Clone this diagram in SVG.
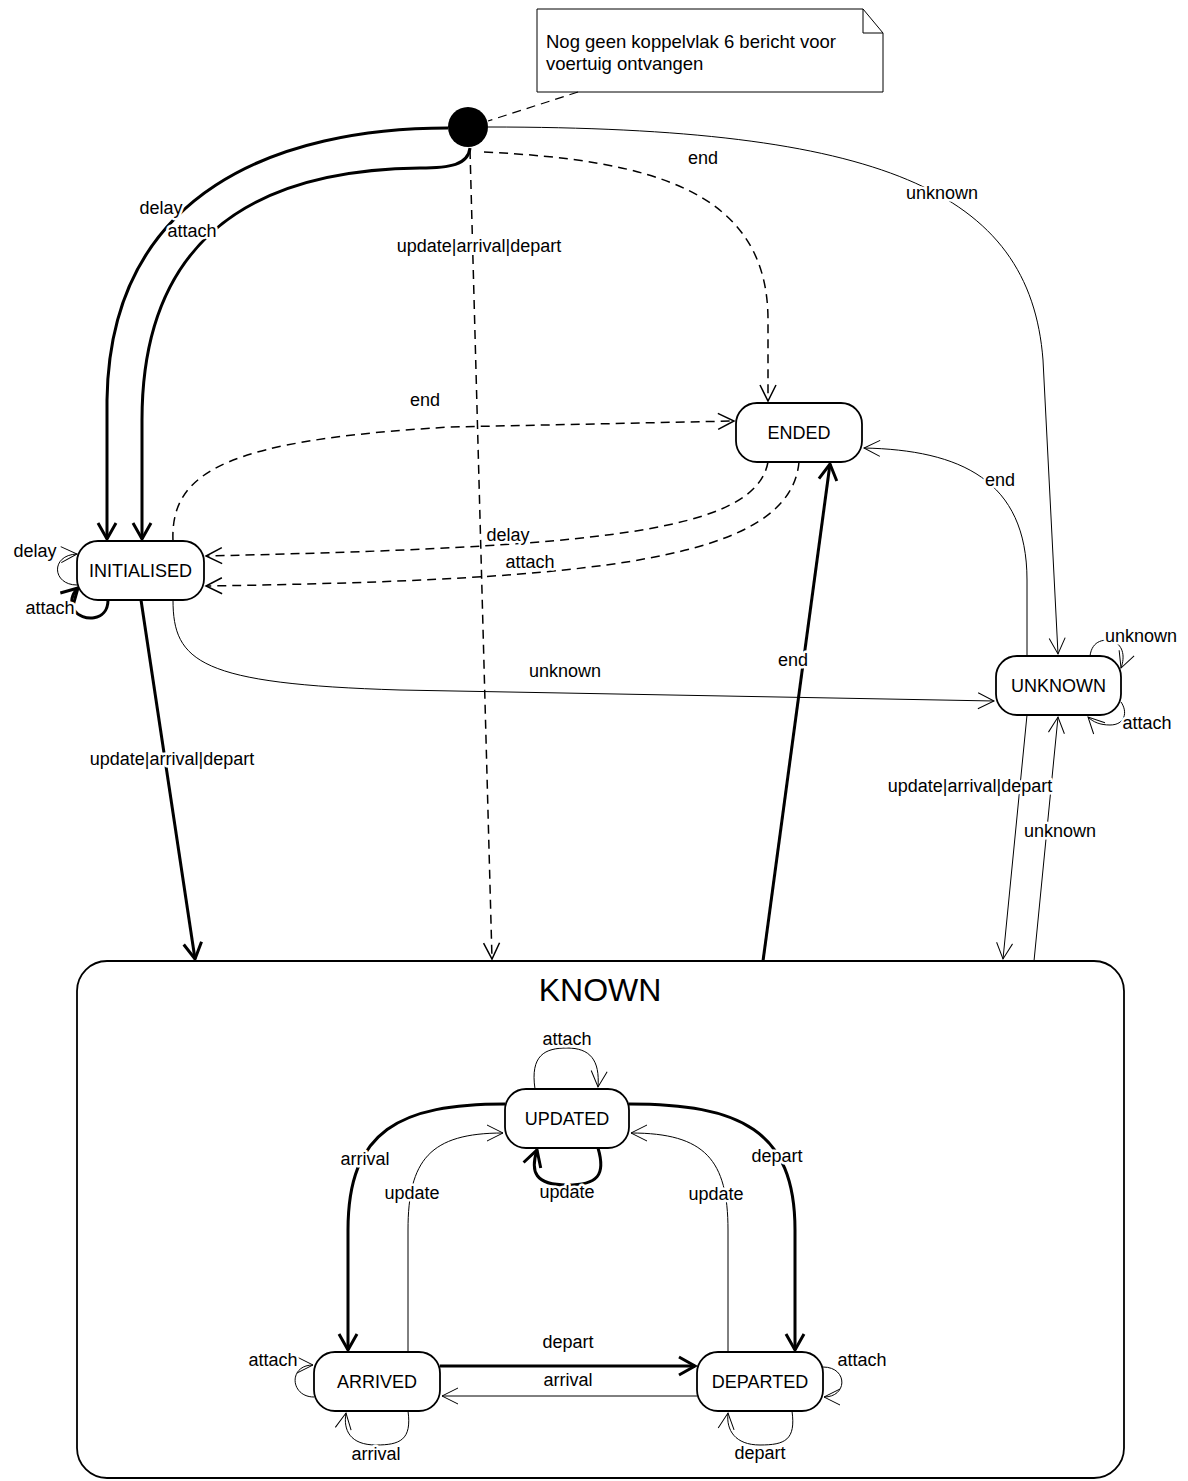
<svg xmlns="http://www.w3.org/2000/svg" width="1188" height="1481" viewBox="0 0 1188 1481">
<defs>
<style>
.st{fill:#fff;stroke:#000;stroke-width:1.8}
.nt{font-family:"Liberation Sans",Arial,sans-serif;font-size:18px;fill:#000;text-anchor:middle}
.lb{font-family:"Liberation Sans",Arial,sans-serif;font-size:18px;fill:#000;text-anchor:middle;stroke:#fff;stroke-width:5px;paint-order:stroke;stroke-linejoin:round}
.thick{fill:none;stroke:#000;stroke-width:3;marker-end:url(#ak)}
.thin{fill:none;stroke:#000;stroke-width:1;marker-end:url(#an)}
.dash{fill:none;stroke:#000;stroke-width:1.5;stroke-dasharray:9 6;marker-end:url(#ad)}
</style>
<marker id="ak" markerUnits="userSpaceOnUse" viewBox="-20 -12 24 24" refX="0" refY="0" markerWidth="24" markerHeight="24" orient="auto" overflow="visible">
<path d="M-16,-9 L0,0 L-16,9" fill="none" stroke="#000" stroke-width="3"/>
</marker>
<marker id="an" markerUnits="userSpaceOnUse" viewBox="-20 -12 24 24" refX="0" refY="0" markerWidth="24" markerHeight="24" orient="auto" overflow="visible">
<path d="M-16,-8 L0,0 L-16,8" fill="none" stroke="#000" stroke-width="1"/>
</marker>
<marker id="ad" markerUnits="userSpaceOnUse" viewBox="-20 -12 24 24" refX="0" refY="0" markerWidth="24" markerHeight="24" orient="auto" overflow="visible">
<path d="M-16,-8 L0,0 L-16,8" fill="none" stroke="#000" stroke-width="1.5"/>
</marker>
</defs>
<rect width="1188" height="1481" fill="#fff"/>

<g id="KNOWN">
<rect x="77" y="961" width="1047" height="517" rx="30" class="st"/>
<text x="600" y="1001" class="nt" style="font-size:32px">KNOWN</text>
</g>

<g id="note">
<polygon points="537,9 863,9 883,33 883,92 537,92" fill="#fff" stroke="#000" stroke-width="1"/>
<path d="M863,9 L863,33 L883,33" fill="none" stroke="#000" stroke-width="1"/>
<text x="546" y="48" class="nt" style="text-anchor:start;font-size:18.5px">Nog geen koppelvlak 6 bericht voor</text>
<text x="546" y="70" class="nt" style="text-anchor:start;font-size:18.5px">voertuig ontvangen</text>
</g>

<g id="connectors">
<path d="M578,92 L488,121" fill="none" stroke="#000" stroke-width="1.2" stroke-dasharray="9 6"/>
<!-- thick -->
<path class="thick" d="M448,128 C280,128 110,190 107,400 L107,539"/>
<path class="thick" d="M470,148 C468,165 450,168 420,168 C240,170 142,250 142,420 L142,539"/>
<path class="thick" d="M141,600 L195,959"/>
<path class="thick" d="M763,961 L830,464"/>
<path class="thick" d="M505,1104 C400,1104 348,1130 348,1230 L348,1350"/>
<path class="thick" d="M629,1104 C740,1104 795,1130 795,1230 L795,1350"/>
<path class="thick" d="M440,1366 L695,1366"/>
<path class="thick" d="M598,1148 C606,1175 598,1185 567,1185 C535,1185 530,1172 537,1150"/>
<path class="thick" d="M108,600 C108,622 82,622 74,610 C70,602 72,594 78,588"/>
<!-- thin -->
<path class="thin" d="M488,127 C880,127 1030,190 1043,360 L1058,654"/>
<path class="thin" d="M173,600 C173,662 200,684 400,690 L994,701"/>
<path class="thin" d="M1027,656 L1027,580 C1027,480 960,450 864,448"/>
<path class="thin" d="M1027,715 L1003,959"/>
<path class="thin" d="M1034,961 L1058,717"/>
<path class="thin" d="M1090,656 C1092,640 1105,638 1115,642 C1125,648 1124,660 1121,668"/>
<path class="thin" d="M1121,702 C1128,712 1125,725 1110,725 C1100,725 1093,722 1088,717"/>
<path class="thin" d="M77,585 C52,585 50,555 77,554"/>
<path class="thin" d="M535,1089 C530,1055 545,1048 567,1048 C590,1048 600,1060 598,1087"/>
<path class="thin" d="M408,1352 L408,1230 C408,1160 430,1133 503,1133"/>
<path class="thin" d="M728,1352 L728,1230 C728,1160 705,1133 631,1133"/>
<path class="thin" d="M697,1396 L442,1396"/>
<path class="thin" d="M314,1397 C290,1397 288,1365 313,1365"/>
<path class="thin" d="M408,1411 C412,1440 400,1445 376,1445 C350,1445 343,1430 346,1413"/>
<path class="thin" d="M823,1367 C848,1367 848,1397 824,1397"/>
<path class="thin" d="M792,1411 C796,1440 785,1445 760,1445 C735,1445 726,1430 728,1413"/>
<!-- dashed -->
<path class="dash" d="M484,152 C650,160 768,190 768,320 L768,401"/>
<path class="dash" d="M470,150 L492,959"/>
<path class="dash" d="M173,541 C170,470 230,440 450,427 L734,421"/>
<path class="dash" d="M768,462 C755,532 600,547 206,556"/>
<path class="dash" d="M799,462 C790,560 600,580 206,586"/>
<!-- labels -->
<text x="161" y="214" class="lb">delay</text>
<text x="192" y="237" class="lb">attach</text>
<text x="703" y="164" class="lb">end</text>
<text x="942" y="199" class="lb">unknown</text>
<text x="479" y="252" class="lb">update|arrival|depart</text>
<text x="425" y="406" class="lb">end</text>
<text x="508" y="541" class="lb">delay</text>
<text x="530" y="568" class="lb">attach</text>
<text x="35" y="557" class="lb">delay</text>
<text x="50" y="614" class="lb">attach</text>
<text x="1000" y="486" class="lb">end</text>
<text x="1141" y="642" class="lb">unknown</text>
<text x="1147" y="729" class="lb">attach</text>
<text x="565" y="677" class="lb">unknown</text>
<text x="793" y="666" class="lb">end</text>
<text x="172" y="765" class="lb">update|arrival|depart</text>
<text x="970" y="792" class="lb">update|arrival|depart</text>
<text x="1060" y="837" class="lb">unknown</text>
<text x="567" y="1045" class="lb">attach</text>
<text x="365" y="1165" class="lb">arrival</text>
<text x="412" y="1199" class="lb">update</text>
<text x="567" y="1198" class="lb">update</text>
<text x="777" y="1162" class="lb">depart</text>
<text x="716" y="1200" class="lb">update</text>
<text x="568" y="1348" class="lb">depart</text>
<text x="568" y="1386" class="lb">arrival</text>
<text x="273" y="1366" class="lb">attach</text>
<text x="862" y="1366" class="lb">attach</text>
<text x="376" y="1460" class="lb">arrival</text>
<text x="760" y="1459" class="lb">depart</text>
</g>

<g id="initial"><circle cx="468" cy="127" r="20" fill="#000"/></g>
<g id="INITIALISED"><rect x="77" y="541" width="127" height="59" rx="21" class="st"/><text x="140.5" y="577" class="nt">INITIALISED</text></g>
<g id="ENDED"><rect x="736" y="403" width="126" height="59" rx="21" class="st"/><text x="799" y="439" class="nt">ENDED</text></g>
<g id="UNKNOWN"><rect x="996" y="656" width="125" height="59" rx="21" class="st"/><text x="1058.5" y="692" class="nt">UNKNOWN</text></g>
<g id="UPDATED"><rect x="505" y="1089" width="124" height="59" rx="21" class="st"/><text x="567" y="1125" class="nt">UPDATED</text></g>
<g id="ARRIVED"><rect x="314" y="1352" width="126" height="59" rx="21" class="st"/><text x="377" y="1388" class="nt">ARRIVED</text></g>
<g id="DEPARTED"><rect x="697" y="1352" width="126" height="59" rx="21" class="st"/><text x="760" y="1388" class="nt">DEPARTED</text></g>
</svg>
